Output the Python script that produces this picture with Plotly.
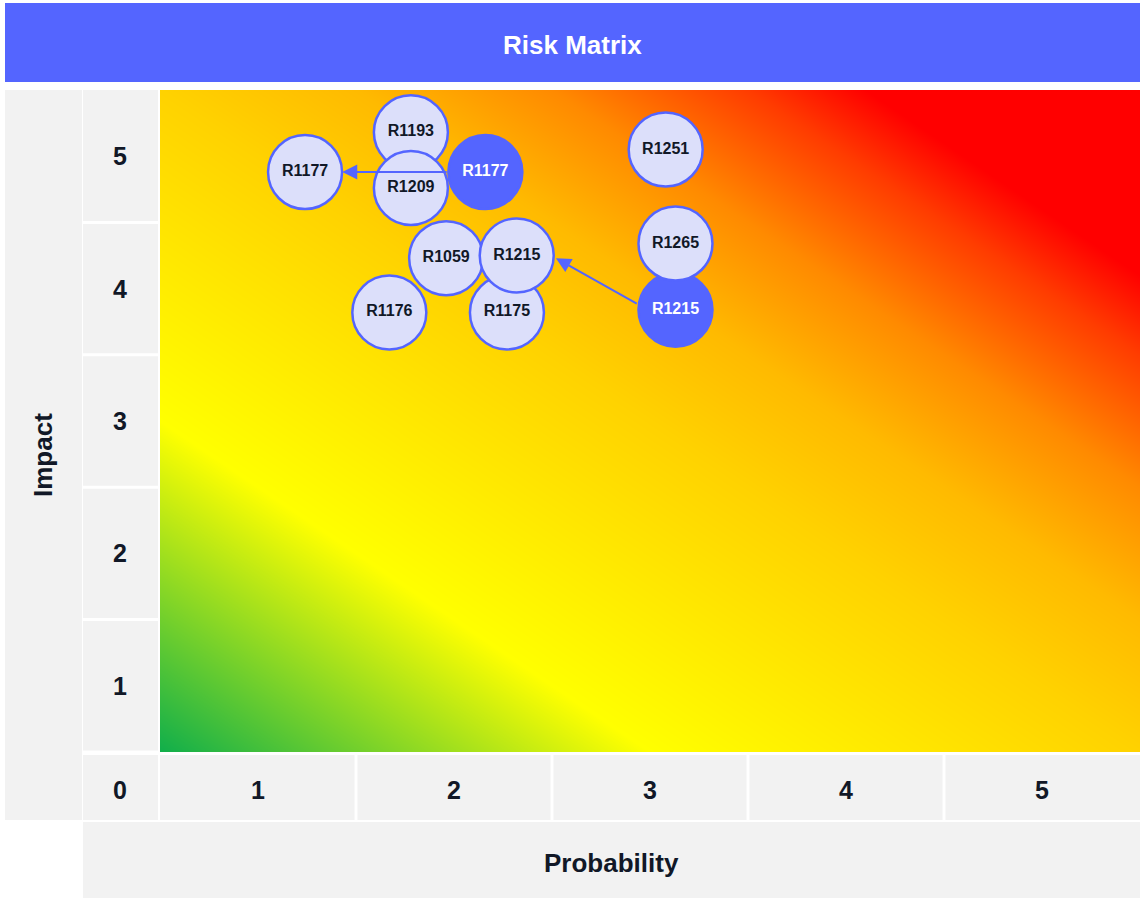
import plotly.graph_objects as go

# ---------------- data ----------------
probability_ticks = [1, 2, 3, 4, 5]
impact_ticks = [1, 2, 3, 4, 5]

# current (light) risk positions
risk_ids = ["R1193", "R1209", "R1177", "R1251", "R1265", "R1059", "R1176", "R1175", "R1215"]
risk_prob = [1.78, 1.78, 1.24, 3.08, 3.13, 1.96, 1.67, 2.27, 2.32]
risk_impact = [5.18, 4.76, 4.88, 5.05, 4.34, 4.23, 3.82, 3.82, 4.25]

# previous (dark) risk positions
prev_ids = ["R1177", "R1215"]
prev_prob = [2.16, 3.13]
prev_impact = [4.88, 3.84]

# movement arrows (tail -> head)
arrow_from_prob = [1.97, 2.94]
arrow_from_impact = [4.88, 3.88]
arrow_to_prob = [1.43, 2.52]
arrow_to_impact = [4.88, 4.23]

# background gradient corners (probability x impact)
grad_x = [0.5, 5.5]
grad_y = [0.5, 5.5]
grad_z = [[1, 6], [6, 11]]

BLUE = "#5465FF"
LIGHT = "#DCDFFA"
PANEL = "#F2F2F2"
TXT = "#111827"
FONT = "Liberation Sans, Arial, sans-serif"

W, H = 1140, 900
L, R, T, B = 160, 0, 90, 148
PW, PH = W - L - R, H - T - B


def px(xp):
    return (xp - L) / PW


def py(yp):
    return (H - B - yp) / PH


def ann(**kw):
    d = dict(showarrow=False, xanchor="center", yanchor="middle")
    d.update(kw)
    return d


fig = go.Figure()

fig.add_trace(go.Heatmap(
    x=grad_x, y=grad_y, z=grad_z, zmin=1, zmax=11, zsmooth="best",
    showscale=False, hoverinfo="skip",
    colorscale=[[0.0, "#10AE4B"], [0.25, "#FFFF00"], [0.5, "#FFD200"],
                [0.6, "#FFBA00"], [0.7, "#FF8A00"], [0.8, "#FF3C00"],
                [0.86, "#FF0000"], [1.0, "#FF0000"]],
))

fig.add_trace(go.Scatter(
    x=prev_prob, y=prev_impact, mode="markers+text", text=prev_ids,
    marker=dict(size=74, color=BLUE, line=dict(color=BLUE, width=2.5)),
    textfont=dict(family=FONT, size=16, color="white", weight="bold"),
    hoverinfo="text", showlegend=False,
))

fig.add_trace(go.Scatter(
    x=risk_prob, y=risk_impact, mode="markers+text", text=risk_ids,
    marker=dict(size=74, color=LIGHT, line=dict(color=BLUE, width=2.5)),
    textfont=dict(family=FONT, size=16, color=TXT, weight="bold"),
    hoverinfo="text", showlegend=False,
))

shapes = []
annotations = []

# title bar
shapes.append(dict(type="rect", xref="paper", yref="paper", x0=px(5), x1=px(1140),
                   y0=py(82), y1=py(3), fillcolor=BLUE, line=dict(width=0), layer="below"))
annotations.append(ann(xref="paper", yref="paper", x=px(572), y=py(45), text="<b>Risk Matrix</b>",
                       font=dict(family=FONT, size=26, color="white")))

# Impact panel
shapes.append(dict(type="rect", xref="paper", yref="paper", x0=px(5), x1=px(82),
                   y0=py(820), y1=py(90), fillcolor=PANEL, line=dict(width=0), layer="below"))
annotations.append(ann(xref="paper", yref="paper", x=px(43), y=py(455), text="<b>Impact</b>",
                       textangle=-90, font=dict(family=FONT, size=26, color=TXT)))

# Probability panel
shapes.append(dict(type="rect", xref="paper", yref="paper", x0=px(83), x1=px(1140),
                   y0=py(898), y1=py(822), fillcolor=PANEL, line=dict(width=0), layer="below"))
annotations.append(ann(xref="paper", yref="paper", x=px(611), y=py(863), text="<b>Probability</b>",
                       font=dict(family=FONT, size=26, color=TXT)))

# y tick cells
for k in impact_ticks:
    y0 = (k - 1) / 5
    y1 = k / 5
    shapes.append(dict(type="rect", xref="paper", yref="paper", x0=px(83), x1=px(158),
                       y0=y0 + 1.5 / PH, y1=y1 - 1.5 / PH if k < 5 else y1,
                       fillcolor=PANEL, line=dict(width=0), layer="below"))
    annotations.append(ann(xref="paper", yref="y", x=px(120), y=k, text=f"<b>{k}</b>",
                           font=dict(family=FONT, size=25, color=TXT)))

# zero cell
shapes.append(dict(type="rect", xref="paper", yref="paper", x0=px(83), x1=px(158),
                   y0=py(820), y1=py(755), fillcolor=PANEL, line=dict(width=0), layer="below"))
annotations.append(ann(xref="paper", yref="paper", x=px(120), y=py(790), text="<b>0</b>",
                       font=dict(family=FONT, size=25, color=TXT)))

# x tick cells
for k in probability_ticks:
    x0 = (k - 1) / 5
    x1 = k / 5
    shapes.append(dict(type="rect", xref="paper", yref="paper",
                       x0=x0 if k == 1 else x0 + 1.5 / PW, x1=x1 if k == 5 else x1 - 1.5 / PW,
                       y0=py(820), y1=py(755), fillcolor=PANEL, line=dict(width=0), layer="below"))
    annotations.append(ann(xref="x", yref="paper", x=k, y=py(790), text=f"<b>{k}</b>",
                           font=dict(family=FONT, size=25, color=TXT)))

# arrows
for fx, fy, tx, ty in zip(arrow_from_prob, arrow_from_impact, arrow_to_prob, arrow_to_impact):
    annotations.append(dict(x=tx, y=ty, ax=fx, ay=fy, xref="x", yref="y", axref="x", ayref="y",
                            showarrow=True, arrowhead=2, arrowsize=1.5, arrowwidth=2,
                            arrowcolor=BLUE, text=""))

fig.update_layout(
    width=W, height=H,
    margin=dict(l=L, r=R, t=T, b=B, pad=0),
    paper_bgcolor="white", plot_bgcolor="white",
    xaxis=dict(range=[0.5, 5.5], showgrid=False, zeroline=False, showticklabels=False,
               fixedrange=True, showline=False),
    yaxis=dict(range=[0.5, 5.5], showgrid=False, zeroline=False, showticklabels=False,
               fixedrange=True, showline=False),
    shapes=shapes, annotations=annotations, showlegend=False,
    font=dict(family=FONT),
)

fig.write_html(
    "out.html",
    config={"displayModeBar": False},
    post_script="document.body.style.margin='0';document.body.style.overflow='hidden';",
)
